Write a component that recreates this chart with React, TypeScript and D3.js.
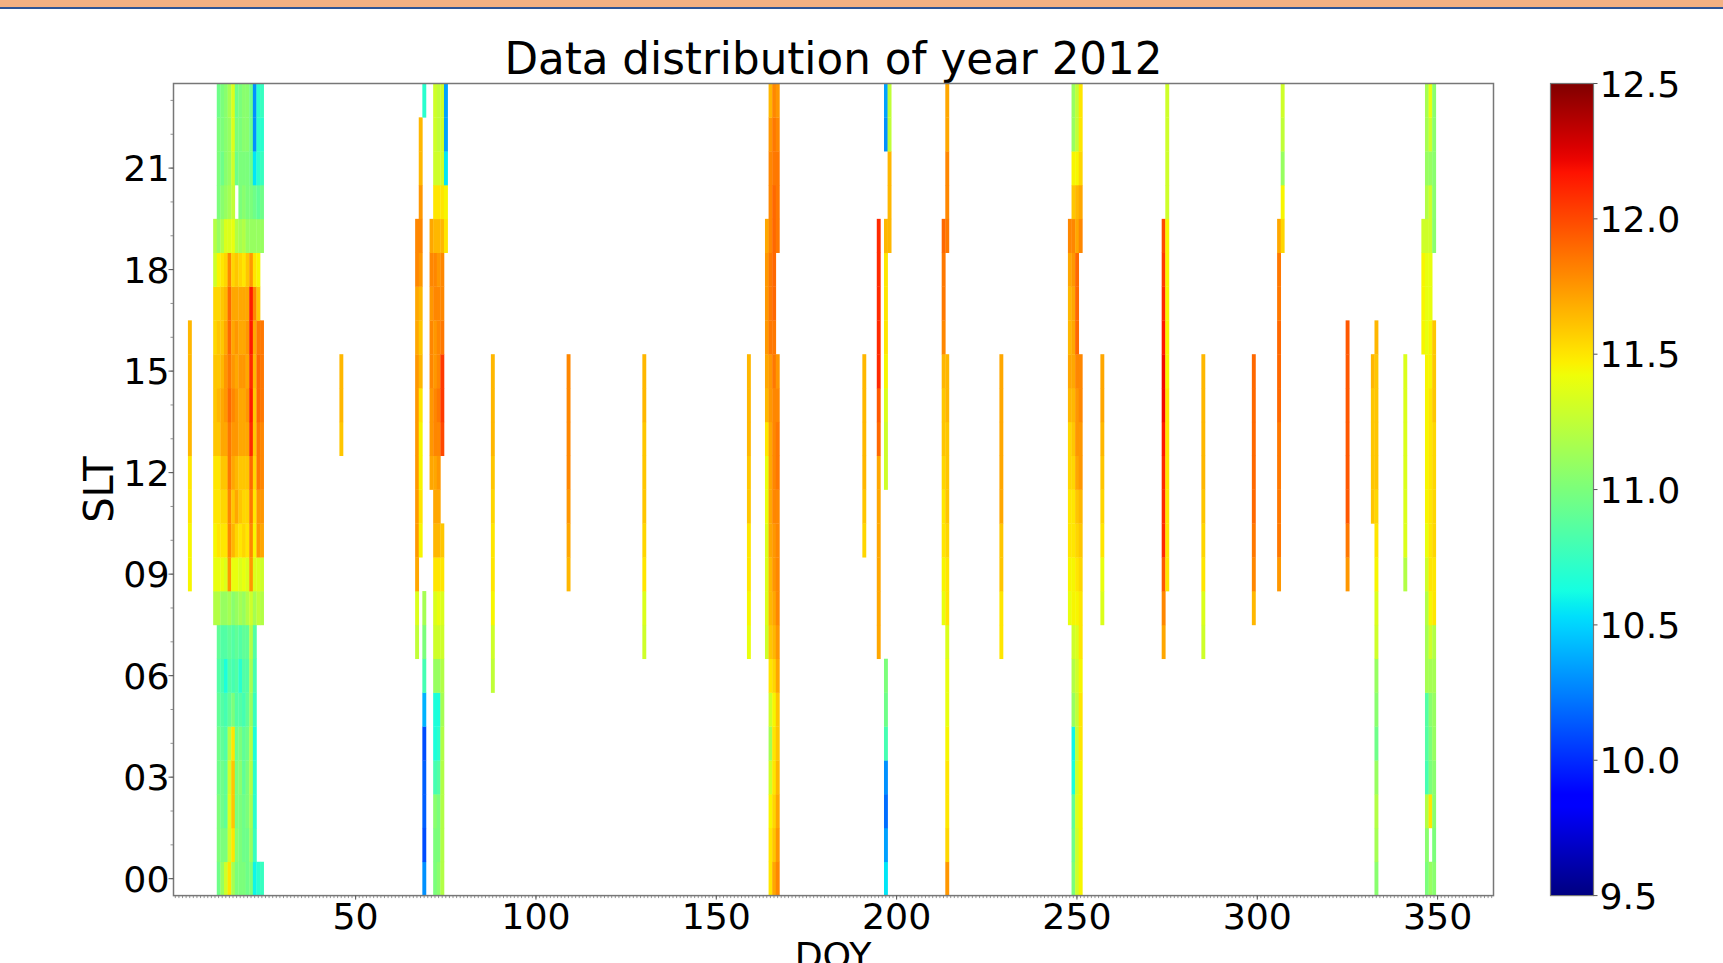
import React from 'react';
import * as d3 from 'd3';

// ---------- data ----------
const title = 'Data distribution of year 2012';
const xTicks = [50, 100, 150, 200, 250, 300, 350];
const yTicks = [0, 3, 6, 9, 12, 15, 18, 21];
const cbTicks = [9.5, 10.0, 10.5, 11.0, 11.5, 12.0, 12.5];
const valueRange = [9.5, 12.5];

// each column: [DOY, first hour, values for consecutive hours (null = no data)]
type Col = [number, number, (number | null)[]];
const N = null;

const clusterJan: Col[] = [
  [11, 8, [11.2, 11.4, 11.45, 11.5, 11.5, 11.6, 11.6, 11.6, 11.55, 11.55, 11.3, 11.2]],
  [12, 0, [10.95, 11.0, 11.0, 10.95, 10.95, 10.9, 10.85, 10.9, 11.2, 11.4, 11.5, 11.5, 11.5, 11.6, 11.65, 11.6, 11.6, 11.55, 11.45, 11.1, 11.0, 11.0, 11.0, 10.95]],
  [13, 0, [11.1, 11.0, 10.95, 10.95, 10.9, 10.85, 10.8, 10.85, 11.1, 11.4, 11.5, 11.55, 11.6, 11.7, 11.7, 11.65, 11.6, 11.6, 11.5, 11.2, 11.05, 10.95, 11.0, 11.0]],
  [14, 0, [11.3, 11.0, 10.9, 10.9, 10.85, 10.8, 10.65, 10.85, 11.1, 11.35, 11.5, 11.55, 11.6, 11.7, 11.75, 11.75, 11.7, 11.65, 11.55, 11.35, 11.1, 11.05, 11.05, 11.05]],
  [15, 0, [11.5, 11.3, 11.35, 11.3, 11.2, 10.9, 10.85, 10.9, 11.15, 11.75, 11.8, 11.8, 11.85, 11.85, 11.9, 11.85, 11.9, 11.9, 11.8, 11.35, 11.15, 11.1, 11.1, 11.15]],
  [16, 0, [11.15, 11.5, 11.6, 11.6, 11.5, 11.0, 10.8, 10.85, 11.05, 11.4, 11.65, 11.6, 11.7, 11.75, 11.8, 11.75, 11.7, 11.7, 11.55, 11.4, 11.25, 11.3, 11.35, 11.35]],
  [17, 0, [11.0, 11.05, 11.0, 11.0, 10.95, 10.85, 10.85, 10.9, 11.1, 11.4, 11.55, 11.7, 11.65, 11.75, 11.75, 11.7, 11.75, 11.7, 11.6, 11.2, N, 10.95, 11.0, 10.95]],
  [18, 0, [11.0, 11.0, 11.0, 11.05, 11.0, 10.85, 10.7, 10.85, 11.15, 11.35, 11.5, 11.6, 11.6, 11.7, 11.7, 11.75, 11.7, 11.7, 11.55, 11.15, 11.0, 11.0, 11.0, 11.0]],
  [19, 0, [11.0, 10.95, 10.95, 10.9, 10.9, 10.8, 10.85, 10.9, 11.1, 11.4, 11.55, 11.55, 11.6, 11.7, 11.7, 11.75, 11.7, 11.7, 11.5, 11.2, 11.05, 11.0, 11.05, 11.05]],
  [20, 0, [10.95, 10.95, 11.0, 11.0, 10.95, 10.9, 10.85, 10.9, 11.2, 11.35, 11.5, 11.55, 11.6, 11.7, 11.75, 11.7, 11.75, 11.7, 11.6, 11.1, 11.0, 11.0, 11.05, 11.05]],
  [21, 0, [11.0, 11.1, 11.15, 11.2, 11.2, 11.1, 11.15, 11.2, 11.3, 11.75, 11.8, 11.85, 11.9, 12.1, 12.15, 12.1, 12.15, 12.15, 11.75, 11.1, 11.0, 10.95, 10.95, 10.95]],
  [22, 0, [10.6, 10.75, 10.7, 10.7, 10.65, 10.75, 10.8, 10.85, 11.15, 11.35, 11.45, 11.5, 11.55, 11.6, 11.6, 11.65, 11.7, 11.8, 11.5, 11.1, 10.95, 10.55, 10.3, 10.3]],
  [23, 0, [10.7, N, N, N, N, N, N, N, 11.25, 11.35, 11.75, 11.75, 11.85, 11.85, 11.9, 11.9, 11.85, 11.6, 11.45, 11.1, 10.9, 10.7, 10.7, 10.7]],
  [24, 0, [10.75, N, N, N, N, N, N, N, 11.2, 11.3, 11.7, 11.75, 11.8, 11.8, 11.85, 11.85, 11.85, N, N, 11.1, 10.95, 10.75, 10.7, 10.75]],
];

const clusterMar: Col[] = [
  [67, 7, [11.25, 11.35, 11.7, 11.75, 11.75, 11.75, 11.75, 11.75, 11.75, 11.7, 11.7, 11.8, 11.8]],
  [68, 10, [11.45, 11.5, 11.45, 11.45, 11.5, 11.65, 11.6, 11.65, 11.75, 11.8, 11.75, 11.65, 11.65]],
  [69, 0, [10.3, 10.1, 10.15, 10.15, 10.1, 10.4, 10.8, 11.0, 11.15, N, N, N, N, N, N, N, N, N, N, N, N, N, N, 10.7]],
  [71, 12, [11.7, 11.75, 11.75, 11.8, 11.8, 11.75, 11.8, 11.7]],
  [72, 0, [11.0, 11.0, 11.05, 10.8, 10.65, 10.65, 11.1, 11.3, 11.35, 11.5, 11.65, 11.7, 11.7, 11.8, 11.8, 11.75, 11.75, 11.8, 11.8, 11.65, 11.5, 11.3, 11.3, 11.3]],
  [73, 0, [11.05, 11.0, 11.0, 10.85, 10.7, 10.65, 11.1, 11.3, 11.4, 11.5, 11.65, 11.7, 11.75, 11.8, 11.85, 11.8, 11.8, 11.8, 11.75, 11.65, 11.5, 11.3, 11.25, 11.25]],
  [74, 0, [11.2, 11.2, 11.2, 11.2, 11.2, 11.15, 11.2, 11.3, 11.35, 11.5, 11.6, N, N, 12.0, 12.05, 12.05, 11.85, 11.8, 11.8, 11.65, 11.5, 11.3, 11.3, 11.3]],
  [75, 19, [11.5, 11.45, 10.55, 10.35, 10.35]],
];

const clusterJun: Col[] = [
  [164, 7, [11.3, 11.35, 11.35, 11.35, 11.4, 11.4, 11.5, 11.65, 11.7, 11.75, 11.75, 11.75, 11.7]],
  [165, 0, [11.5, 11.5, 11.45, 11.3, 11.15, 11.3, 11.5, 11.6, 11.65, 11.65, 11.7, 11.7, 11.7, 11.7, 11.75, 11.75, 11.85, 11.85, 11.85, 11.8, 11.8, 11.8, 11.75, 11.65]],
  [166, 0, [11.7, 11.6, 11.55, 11.5, 11.5, 11.45, 11.55, 11.65, 11.7, 11.75, 11.75, 11.8, 11.8, 11.8, 11.8, 11.85, 11.85, 11.9, 11.9, 11.9, 11.9, 11.85, 11.85, 11.8]],
  [167, 0, [11.8, 11.75, 11.7, 11.65, 11.6, 11.6, 11.7, 11.75, 11.8, 11.8, 11.8, 11.8, 11.85, 11.85, 11.8, 11.75, N, N, N, 11.85, 11.85, 11.85, 11.8, 11.75]],
];

const clusterJul: Col[] = [
  [195, 7, [11.7, 11.7, 11.7, 11.7, 11.7, 11.7, 11.9, 11.95, 12.1, 12.1, 12.1, 12.1, 12.1]],
  [197, 0, [10.55, 10.35, 10.2, 10.3, 10.8, 10.95, 11.0, N, N, N, N, N, 11.3, 11.3, 11.35, 11.45, 11.5, 11.5, 11.5, 11.65, N, N, 10.3, 10.35]],
  [198, 19, [11.65, 11.65, 11.65, 11.25, 11.25]],
  [213, 8, [11.4, 11.45, 11.5, 11.5, 11.55, 11.6, 11.6, 11.65, 11.8, 11.85, 11.85, 11.9]],
  [214, 0, [11.75, 11.55, 11.5, 11.5, 11.45, 11.4, 11.4, 11.35, 11.5, 11.5, 11.55, 11.6, 11.6, 11.6, 11.65, 11.65, N, N, N, 11.85, 11.8, 11.8, 11.7, 11.7]],
];

const clusterSep: Col[] = [
  [248, 8, [11.4, 11.45, 11.5, 11.5, 11.55, 11.55, 11.65, 11.7, 11.65, 11.65, 11.7, 11.8]],
  [249, 0, [11.0, 10.95, 10.9, 10.65, 10.6, 11.1, 11.2, 11.3, 11.45, 11.45, 11.5, 11.5, 11.55, 11.6, 11.65, 11.7, 11.7, 11.7, 11.75, 11.8, 11.6, 11.45, 11.1, 11.1]],
  [250, 0, [11.3, 11.3, 11.35, 11.3, 11.25, 11.25, 11.3, 11.35, 11.45, 11.5, 11.55, 11.6, 11.7, 11.75, 11.75, 11.8, 11.9, 11.9, 11.9, 11.7, 11.65, 11.45, 11.25, 11.25]],
  [251, 0, [11.45, 11.45, 11.45, 11.45, 11.5, 11.5, 11.45, 11.5, 11.5, 11.55, 11.6, 11.65, 11.75, 11.75, 11.8, 11.8, N, N, N, 11.8, 11.7, 11.55, 11.5, 11.5]],
  [274, 7, [11.7, 11.8, 11.95, 12.1, 12.1, 12.1, 12.15, 12.2, 12.2, 12.15, 12.1, 12.05, 12.0]],
  [275, 9, [11.5, 11.5, 11.5, 11.5, 11.5, 11.5, 11.45, 11.45, 11.45, 11.45, 11.45, 11.3, 11.3, 11.3, 11.3]],
  [306, 9, [11.75, 11.85, 11.85, 11.85, 11.85, 11.9, 11.9, 11.9, 11.85, 11.85, 11.7]],
  [307, 19, [11.55, 11.45, 11.1, 11.25, 11.3]],
];

const clusterDec: Col[] = [
  [332, 11, [11.6, 11.6, 11.6, 11.6, 11.65]],
  [333, 0, [11.05, 11.15, 11.2, 11.1, 10.95, 11.05, 11.1, 11.3, 11.35, 11.45, 11.5, 11.55, 11.6, 11.6, 11.6, 11.6, 11.65]],
  [346, 16, [11.45, 11.45, 11.45, 11.3]],
  [347, 0, [11.0, 11.05, 11.2, 10.8, 10.85, 10.85, 11.15, 11.15, 11.2, 11.3, 11.4, 11.45, 11.45, 11.45, 11.45, 11.45, 11.4, 11.4, 11.4, 11.3, 11.2, 11.1, 11.15, 11.15]],
  [348, 0, [11.1, N, 11.5, 11.0, 11.0, 11.05, 11.15, 11.3, 11.45, 11.5, 11.5, 11.5, 11.5, 11.5, 11.5, 11.45, 11.45, 11.4, 11.4, 11.3, 11.3, 11.1, 11.3, 11.4]],
  [349, 0, [11.05, 11.0, 11.05, 11.05, 11.1, 11.1, 11.15, 11.2, 11.5, 11.5, 11.55, 11.55, 11.55, 11.55, 11.6, 11.6, 11.6, N, N, 11.05, 11.05, 11.05, 11.05, 11.05]],
];

const singleDays: Col[] = [
  [4, 9, [11.45, 11.45, 11.5, 11.5, 11.65, 11.65, 11.65, 11.65]],
  [46, 13, [11.6, 11.65, 11.65]],
  [88, 6, [11.25, 11.3, 11.45, 11.5, 11.5, 11.55, 11.6, 11.65, 11.65, 11.65]],
  [109, 9, [11.65, 11.7, 11.75, 11.8, 11.8, 11.8, 11.8]],
  [130, 7, [11.3, 11.35, 11.5, 11.55, 11.6, 11.6, 11.6, 11.65, 11.65]],
  [159, 7, [11.4, 11.45, 11.5, 11.5, 11.6, 11.6, 11.65, 11.65, 11.65]],
  [191, 10, [11.55, 11.6, 11.65, 11.65, 11.65, 11.65]],
  [229, 7, [11.5, 11.5, 11.6, 11.6, 11.7, 11.7, 11.7, 11.7, 11.7]],
  [257, 8, [11.35, 11.4, 11.5, 11.55, 11.6, 11.65, 11.7, 11.7]],
  [285, 7, [11.3, 11.35, 11.5, 11.55, 11.6, 11.65, 11.65, 11.65, 11.65]],
  [299, 8, [11.65, 11.8, 11.85, 11.9, 11.9, 11.9, 11.9, 11.9]],
  [325, 9, [11.75, 11.85, 11.95, 11.95, 11.95, 11.95, 11.95, 11.95]],
  [341, 9, [11.2, 11.35, 11.35, 11.35, 11.35, 11.35, 11.35]],
];

// ---------- matplotlib "jet" ----------
const jetR: [number, number][] = [[0, 0], [0.35, 0], [0.66, 1], [0.89, 1], [1, 0.5]];
const jetG: [number, number][] = [[0, 0], [0.125, 0], [0.375, 1], [0.64, 1], [0.91, 0], [1, 0]];
const jetB: [number, number][] = [[0, 0.5], [0.11, 1], [0.34, 1], [0.65, 0], [1, 0]];
function seg(s: [number, number][], t: number) {
  for (let i = 1; i < s.length; i++) {
    if (t <= s[i][0]) {
      const [x0, y0] = s[i - 1];
      const [x1, y1] = s[i];
      return y0 + ((t - x0) / (x1 - x0)) * (y1 - y0);
    }
  }
  return s[s.length - 1][1];
}
function jet(t: number) {
  const c = Math.max(0, Math.min(1, t));
  const r = Math.round(seg(jetR, c) * 255);
  const g = Math.round(seg(jetG, c) * 255);
  const b = Math.round(seg(jetB, c) * 255);
  return `rgb(${r},${g},${b})`;
}

const FONT = 'DejaVu Sans, Liberation Sans, sans-serif';

export default function App() {
  const W = 1723;
  const H = 963;
  const left = 173.5, right = 1493.5, top = 83.5, bottom = 895.6;
  const x = d3.scaleLinear().domain([-0.5, 365.5]).range([left, right]);
  const y = d3.scaleLinear().domain([-0.5, 23.5]).range([bottom, top]);
  const norm = d3.scaleLinear().domain(valueRange).range([0, 1]);
  const color = (v: number) => jet(norm(v));

  const cbL = 1550.5, cbR = 1593.5;
  const cbY = d3.scaleLinear().domain(valueRange).range([bottom, top]);

  const allCols = [...clusterJan, ...clusterMar, ...clusterJun, ...clusterJul, ...clusterSep, ...clusterDec, ...singleDays];
  const cells: { d: number; h: number; v: number }[] = [];
  allCols.forEach(([d, h0, vals]) => {
    vals.forEach((v, i) => {
      if (v !== null && v !== undefined) cells.push({ d, h: h0 + i, v });
    });
  });

  const minorX = d3.range(0, 366, 1);
  const minorY = d3.range(0, 24, 1);
  const gradStops = d3.range(0, 1.0001, 1 / 64);

  return (
    <svg width={W} height={H} style={{ position: 'absolute', left: 0, top: 0, background: '#fff' }}>
      <defs>
        <linearGradient id="cb" x1="0" y1="1" x2="0" y2="0">
          {gradStops.map((t, i) => (
            <stop key={i} offset={t} stopColor={jet(t)} />
          ))}
        </linearGradient>
      </defs>
      <rect x={0} y={0} width={W} height={H} fill="#fff" />
      {/* slide header band */}
      <rect x={0} y={0} width={W} height={7} fill="#F4B183" />
      <rect x={0} y={7} width={W} height={2} fill="#2F5597" />

      <text x={(left + right) / 2} y={74} textAnchor="middle" fontFamily={FONT} fontSize={43.6} fill="#000">
        {title}
      </text>

      {/* cells */}
      <g>
        {cells.map((c, i) => (
          <rect
            key={i}
            x={x(c.d - 0.5)}
            y={y(c.h + 0.5)}
            width={x(c.d + 0.5) - x(c.d - 0.5) + 0.3}
            height={y(c.h - 0.5) - y(c.h + 0.5) + 0.3}
            fill={color(c.v)}
          />
        ))}
      </g>

      {/* frame */}
      <rect x={left} y={top} width={right - left} height={bottom - top} fill="none" stroke="#777" strokeWidth={1.5} />

      {/* x minor ticks */}
      {minorX.map((d) => (
        <line key={'mx' + d} x1={x(d)} x2={x(d)} y1={bottom} y2={bottom + 2.5} stroke="#777" strokeWidth={0.8} />
      ))}
      {xTicks.map((d) => (
        <g key={'xt' + d}>
          <line x1={x(d)} x2={x(d)} y1={bottom} y2={bottom + 4} stroke="#555" strokeWidth={1} />
          <text x={x(d)} y={929} textAnchor="middle" fontFamily={FONT} fontSize={36.3} fill="#000">
            {d}
          </text>
        </g>
      ))}
      {/* y minor ticks */}
      {minorY.map((h) => (
        <line key={'my' + h} x1={left - 3} x2={left} y1={y(h)} y2={y(h)} stroke="#777" strokeWidth={0.8} />
      ))}
      {yTicks.map((h) => (
        <g key={'yt' + h}>
          <line x1={left - 5} x2={left} y1={y(h)} y2={y(h)} stroke="#555" strokeWidth={1} />
          <text x={169.5} y={y(h)} dy="0.36em" textAnchor="end" fontFamily={FONT} fontSize={36.3} fill="#000">
            {String(h).padStart(2, '0')}
          </text>
        </g>
      ))}

      <text x={833} y={968} textAnchor="middle" fontFamily={FONT} fontSize={36.3} fill="#000">DOY</text>
      <text transform={`translate(113,${(top + bottom) / 2}) rotate(-90)`} textAnchor="middle" fontFamily={FONT} fontSize={40} fill="#000">SLT</text>

      {/* colorbar */}
      <rect x={cbL} y={top} width={cbR - cbL} height={bottom - top} fill="url(#cb)" stroke="#777" strokeWidth={1.2} />
      {cbTicks.map((v) => (
        <g key={'cb' + v}>
          <line x1={cbR} x2={cbR + 4} y1={cbY(v)} y2={cbY(v)} stroke="#555" strokeWidth={1} />
          <text x={cbR + 6} y={cbY(v)} dy="0.36em" fontFamily={FONT} fontSize={36.3} fill="#000">
            {v.toFixed(1)}
          </text>
        </g>
      ))}
    </svg>
  );
}
